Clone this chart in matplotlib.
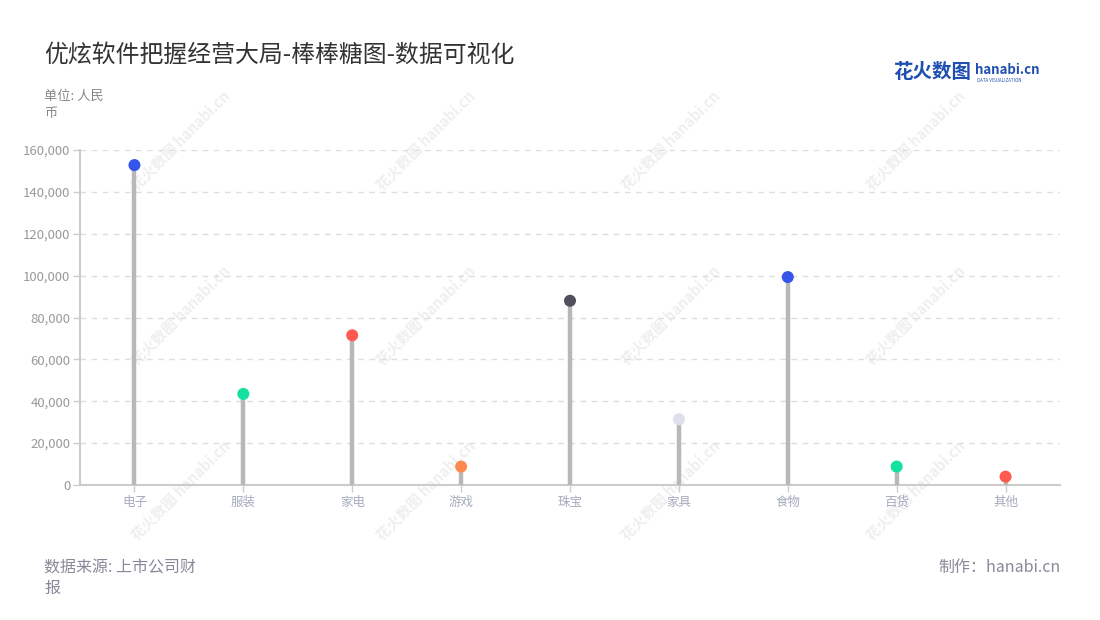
import numpy as np
import matplotlib.pyplot as plt

plt.rcParams['font.family'] = ['Noto Sans CJK SC', 'DejaVu Sans']

# data
categories = ['电子', '服装', '家电', '游戏', '珠宝', '家具', '食物', '百货', '其他']
values = [152800, 43500, 71500, 8800, 88000, 31400, 99300, 8800, 4000]
dot_colors = ['#3555eb', '#14e0a0', '#ff5a50', '#ff8a50', '#50505c',
              '#dce0ea', '#3555eb', '#14e0a0', '#ff5a50']
y_ticks = [0, 20000, 40000, 60000, 80000, 100000, 120000, 140000, 160000]

fig = plt.figure(figsize=(11, 6.2), dpi=100)
ax = fig.add_axes([80 / 1100, 1 - 485 / 620, 980 / 1100, 335 / 620])
ax.set_zorder(1)
ax.patch.set_alpha(0)

x = np.arange(len(categories))

# stems and dots
ax.vlines(x, 0, values, color='#b8b8b8', linewidth=3.2, zorder=3)
ax.scatter(x, values, s=75, c=dot_colors, zorder=4, linewidths=0)

ax.set_xlim(-0.5, len(categories) - 0.5)
ax.set_ylim(0, 160000)
ax.set_xticks(x)
ax.set_xticklabels(categories, fontsize=9)
ax.set_yticks(y_ticks)
ax.set_yticklabels([f'{v:,}' for v in y_ticks], fontsize=9.5)

ax.yaxis.grid(True, linestyle=(0, (4, 4)), color='#dddddd', linewidth=1)
ax.set_axisbelow(True)
for s in ['top', 'right']:
    ax.spines[s].set_visible(False)
for s in ['left', 'bottom']:
    ax.spines[s].set_color('#cccccc')
    ax.spines[s].set_linewidth(1.5)
ax.tick_params(axis='both', colors='#cccccc', length=5, width=1)
ax.tick_params(axis='x', labelcolor='#a4abbd', pad=3)
ax.tick_params(axis='y', labelcolor='#999999', pad=2)

# watermarks (behind the axes)
for wx in [180, 425, 670, 915]:
    for wy in [140, 315, 490]:
        fig.text(wx / 1100, 1 - wy / 620, '花火数图 hanabi.cn', rotation=45,
                 ha='center', va='center', fontsize=10.5, fontweight='bold',
                 color='#efefef', zorder=0)

# titles and notes
fig.text(44 / 1100, 1 - 55 / 620, '优炫软件把握经营大局-棒棒糖图-数据可视化',
         fontsize=17.2, color='#333333', va='center')
fig.text(44 / 1100, 1 - 105 / 620, '单位: 人民\n币', fontsize=9.5,
         color='#888888', va='center', linespacing=1.4)
fig.text(44 / 1100, 1 - 578 / 620, '数据来源: 上市公司财\n报', fontsize=11.5,
         color='#888899', va='center', linespacing=1.3)
fig.text(1061 / 1100, 1 - 567 / 620, '制作：hanabi.cn', fontsize=11.5,
         color='#888899', va='center', ha='right')

# logo
fig.text(893 / 1100, 1 - 73 / 620, '花火数图', fontsize=14, fontweight='bold',
         color='#1f4fb0', va='center')
fig.text(975 / 1100, 1 - 70 / 620, 'hanabi.cn', fontsize=9.5, fontweight='bold',
         color='#1f4fb0', va='center')
fig.text(977 / 1100, 1 - 80 / 620, 'DATA VISUALIZATION', fontsize=3.2,
         color='#1f4fb0', va='center')

fig.savefig('out.png', dpi=100)
